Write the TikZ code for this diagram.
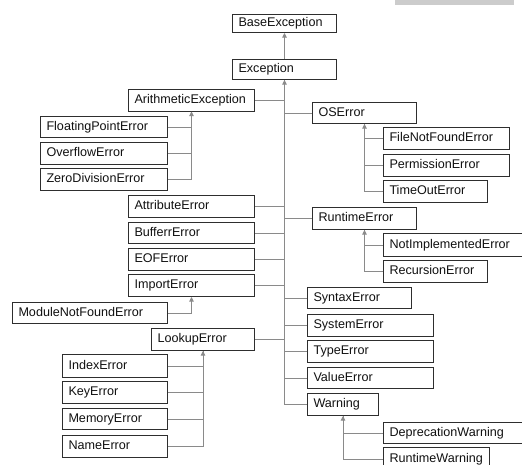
\documentclass[tikz,border=0pt]{standalone}
\usepackage{fontspec}
\setmainfont{Liberation Sans}
\usetikzlibrary{arrows.meta}
\definecolor{conn}{HTML}{8A8A8A}
\definecolor{bord}{HTML}{2E2E2E}
\definecolor{txt}{HTML}{111111}
\tikzset{
  bx/.code 2 args={\pgfmathsetmacro\bxtw{#1-12}\edef\bxtmp{\noexpand\tikzset{text width=\bxtw pt, minimum height=#2pt}}\bxtmp},
  box/.style={draw=bord, line width=1pt, anchor=north west, inner xsep=6pt, inner ysep=0pt,
    align=left, text=txt, font=\fontsize{12.6}{14}\selectfont, text height=9.2pt, text depth=2.6pt},
  link/.style={draw=conn, line width=0.9pt},
  arr/.style={link, -{Triangle[length=4.5pt,width=4.5pt]}}
}
\begin{document}
\begin{tikzpicture}[x=1pt,y=1pt]
\useasboundingbox (0,0) rectangle (522,-464);
\clip (0,0) rectangle (522,-464);
\fill[white] (0,0) rectangle (522,-464);
\fill[fill={rgb,255:red,204;green,204;blue,204}] (395,0) rectangle (514,-5);
% nodes
\node[box, bx={104}{18}] (base) at (232,-14) {BaseException};
\node[box, bx={104}{20}] (exc) at (232,-59) {Exception};
\node[box, bx={126}{22}] (arith) at (128,-88.5) {ArithmeticException};
\node[box, bx={104}{21}] (os) at (312,-102) {OSError};
\node[box, bx={127}{21}] (fpe) at (40,-116) {FloatingPointError};
\node[box, bx={127}{22}] (ovf) at (40,-142) {OverflowError};
\node[box, bx={126}{22}] (fnf) at (383,-127) {FileNotFoundError};
\node[box, bx={127}{22}] (zde) at (40,-168) {ZeroDivisionError};
\node[box, bx={126}{22}] (perm) at (383,-154) {PermissionError};
\node[box, bx={104}{22}] (tout) at (383,-180) {TimeOutError};
\node[box, bx={126}{22}] (attr) at (128,-195) {AttributeError};
\node[box, bx={104}{22}] (rt) at (312,-207) {RuntimeError};
\node[box, bx={126}{21}] (buf) at (128,-222) {BufferrError};
\node[box, bx={145}{23}] (notimpl) at (383,-233) {NotImplementedError};
\node[box, bx={126}{22}] (eof) at (128,-248) {EOFError};
\node[box, bx={104}{22}] (rec) at (383,-260) {RecursionError};
\node[box, bx={126}{22}] (imp) at (128,-274) {ImportError};
\node[box, bx={104}{21}] (syn) at (307,-287) {SyntaxError};
\node[box, bx={155}{21}] (mod) at (12,-302) {ModuleNotFoundError};
\node[box, bx={126}{22}] (sys) at (307,-314) {SystemError};
\node[box, bx={103}{22}] (look) at (151,-328) {LookupError};
\node[box, bx={126}{22}] (type) at (307,-340) {TypeError};
\node[box, bx={105}{23}] (idx) at (62,-354) {IndexError};
\node[box, bx={126}{21}] (val) at (307,-367) {ValueError};
\node[box, bx={105}{22}] (key) at (62,-381) {KeyError};
\node[box, bx={71}{22}] (warn) at (307,-393) {Warning};
\node[box, bx={105}{21}] (mem) at (62,-408) {MemoryError};
\node[box, bx={145}{21}] (dep) at (383,-422) {DeprecationWarning};
\node[box, bx={105}{22}] (name) at (62,-435) {NameError};
\node[box, bx={106}{23}] (rtw) at (383,-447) {RuntimeWarning};
% connectors
\draw[arr] (exc.north) -- (base.south);
\draw[arr] (warn.west) -| (exc.south);
\foreach \n in {arith,attr,buf,eof,imp,look} \draw[link] (\n.east) -| (exc.south);
\foreach \n in {os,rt,syn,sys,type,val} \draw[link] (\n.west) -| (exc.south);
\draw[arr] (zde.east) -| (arith.south);
\foreach \n in {fpe,ovf} \draw[link] (\n.east) -| (arith.south);
\draw[arr] (tout.west) -| (os.south);
\foreach \n in {fnf,perm} \draw[link] (\n.west) -| (os.south);
\draw[arr] (rec.west) -| (rt.south);
\draw[link] (notimpl.west) -| (rt.south);
\draw[arr] (mod.east) -| (imp.south);
\draw[arr] (name.east) -| (look.south);
\foreach \n in {idx,key,mem} \draw[link] (\n.east) -| (look.south);
\draw[arr] (rtw.west) -| (warn.south);
\draw[link] (dep.west) -| (warn.south);
\end{tikzpicture}
\end{document}
